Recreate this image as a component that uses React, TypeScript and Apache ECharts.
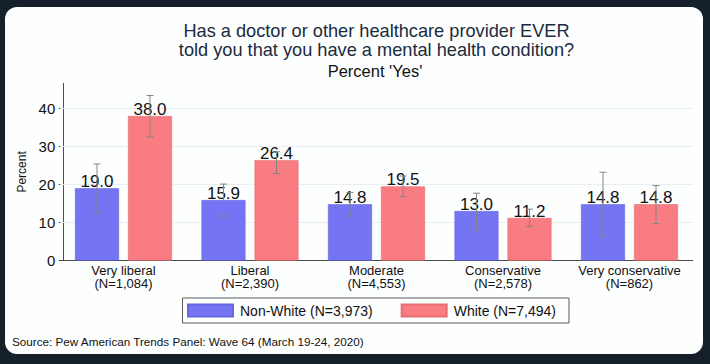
import React, { useEffect, useRef } from "react";
import * as echarts from "echarts";

const categories = ["Very liberal", "Liberal", "Moderate", "Conservative", "Very conservative"];
const categoryN = ["1,084", "2,390", "4,553", "2,578", "862"];
const seriesNames = ["Non-White (N=3,973)", "White (N=7,494)"];
const nonWhite = [19.0, 15.9, 14.8, 13.0, 14.8];
const white = [38.0, 26.4, 19.5, 11.2, 14.8];
const nonWhiteLow = [12.4, 11.7, 11.7, 8.0, 6.4];
const nonWhiteHigh = [25.4, 20.1, 17.9, 17.7, 23.2];
const whiteLow = [32.5, 22.9, 16.8, 8.9, 9.7];
const whiteHigh = [43.4, 28.6, 22.2, 13.5, 19.7];
const yTicks = [0, 10, 20, 30, 40];
const gridValues = [10, 20, 30, 40];

const titleLines = [
  "Has a doctor or other healthcare provider EVER",
  "told you that you have a mental health condition?",
];
const subtitle = "Percent 'Yes'";
const sourceText = "Source: Pew American Trends Panel: Wave 64 (March 19-24, 2020)";

const FONT = "'Liberation Sans', Arial, Helvetica, sans-serif";
const BLUE = "#7575f4";
const RED = "#f97c82";
const BAR_W = 44;
const BAR_GAP = 9;

function errSeries(lows: number[], highs: number[], dx: number) {
  return {
    type: "custom",
    z: 4,
    silent: true,
    renderItem: (params: any, api: any) => {
      const lo = api.coord([api.value(0), api.value(1)]);
      const hi = api.coord([api.value(0), api.value(2)]);
      const x = lo[0] + dx;
      const cap = 3.5;
      const st = { stroke: "#858585", lineWidth: 1 };
      return {
        type: "group",
        children: [
          { type: "line", shape: { x1: x, y1: lo[1], x2: x, y2: hi[1] }, style: st },
          { type: "line", shape: { x1: x - cap, y1: lo[1], x2: x + cap, y2: lo[1] }, style: st },
          { type: "line", shape: { x1: x - cap, y1: hi[1], x2: x + cap, y2: hi[1] }, style: st },
        ],
      };
    },
    data: lows.map((l, i) => [i, l, highs[i]]),
  };
}

export default function App() {
  const ref = useRef<HTMLDivElement>(null);
  useEffect(() => {
    if (!ref.current) return;
    const chart = echarts.init(ref.current, null, { renderer: "svg" });
    const labelCommon = {
      show: true,
      position: "top",
      distance: -2,
      fontFamily: FONT,
      fontSize: 17,
      color: "#111",
      formatter: (p: any) => Number(p.value).toFixed(1),
    };
    chart.setOption({
      animation: false,
      backgroundColor: "#15202b",
      textStyle: { fontFamily: FONT },
      graphic: [
        {
          type: "rect",
          z: -10,
          silent: true,
          shape: { x: 5, y: 7, width: 698, height: 347, r: 12 },
          style: { fill: "#fdfefe" },
        },
        {
          type: "text",
          x: 376.5,
          y: 31.3,
          style: { text: titleLines[0], font: `18.2px ${FONT}`, fill: "#1b2b40", align: "center", verticalAlign: "middle" },
        },
        {
          type: "text",
          x: 376.5,
          y: 49.9,
          style: { text: titleLines[1], font: `18.2px ${FONT}`, fill: "#1b2b40", align: "center", verticalAlign: "middle" },
        },
        {
          type: "text",
          x: 375,
          y: 71,
          style: { text: subtitle, font: `16.5px ${FONT}`, fill: "#111", align: "center", verticalAlign: "middle" },
        },
        {
          type: "text",
          x: 12,
          y: 341.5,
          style: { text: sourceText, font: `11.7px ${FONT}`, fill: "#111", align: "left", verticalAlign: "middle" },
        },
      ],
      legend: {
        left: 182.5,
        top: 298,
        orient: "horizontal",
        itemWidth: 45,
        itemHeight: 12,
        itemGap: 28,
        padding: [4.5, 13, 4.5, 4.5],
        borderColor: "#5a5a5a",
        borderWidth: 1,
        icon: "rect",
        textStyle: { fontFamily: FONT, fontSize: 14, color: "#111", lineHeight: 16, padding: [0, 0, 0, 2] },
        data: seriesNames,
      },
      grid: { left: 60.25, width: 632.5, top: 83.3, height: 177.2, containLabel: false },
      xAxis: {
        type: "category",
        data: categories.map((c, i) => `${c}\n(N=${categoryN[i]})`),
        axisLine: { lineStyle: { color: "#4a4a4a", width: 1 } },
        axisTick: { show: false },
        axisLabel: { fontFamily: FONT, fontSize: 13, color: "#111", lineHeight: 13.5, margin: 3, interval: 0 },
        splitLine: { show: false },
      },
      yAxis: {
        type: "value",
        min: 0,
        max: 46.6,
        interval: 10,
        offset: -3,
        name: "Percent",
        nameLocation: "middle",
        nameRotate: 90,
        nameGap: 30,
        nameTextStyle: { fontFamily: FONT, fontSize: 12, color: "#111" },
        axisLine: { show: true, lineStyle: { color: "#4a4a4a", width: 1 } },
        axisTick: { show: true, length: 4.5, lineStyle: { color: "#4a4a4a" }, customValues: yTicks },
        axisLabel: { fontFamily: FONT, fontSize: 15, color: "#111", margin: 8, customValues: yTicks },
        splitLine: { show: false },
      },
      series: [
        {
          name: seriesNames[0],
          type: "bar",
          data: nonWhite,
          barWidth: BAR_W,
          barGap: `${(BAR_GAP / BAR_W) * 100}%`,
          itemStyle: { color: BLUE, borderColor: "#6767e0", borderWidth: 0.6 },
          label: labelCommon,
          z: 2,
          markLine: {
            silent: true,
            symbol: "none",
            label: { show: false },
            lineStyle: { color: "#e8eef1", type: "solid", width: 1 },
            data: gridValues.map((v) => ({ yAxis: v })),
            z: 1,
          },
        },
        {
          name: seriesNames[1],
          type: "bar",
          data: white,
          barWidth: BAR_W,
          barGap: `${(BAR_GAP / BAR_W) * 100}%`,
          itemStyle: { color: RED, borderColor: "#e86e74", borderWidth: 0.6 },
          label: labelCommon,
          z: 2,
        },
        errSeries(nonWhiteLow, nonWhiteHigh, -(BAR_W + BAR_GAP) / 2),
        errSeries(whiteLow, whiteHigh, (BAR_W + BAR_GAP) / 2),
      ],
    });
    return () => chart.dispose();
  }, []);
  return (
    <div
      ref={ref}
      style={{ position: "fixed", left: 0, top: 0, width: 710, height: 364 }}
    />
  );
}
